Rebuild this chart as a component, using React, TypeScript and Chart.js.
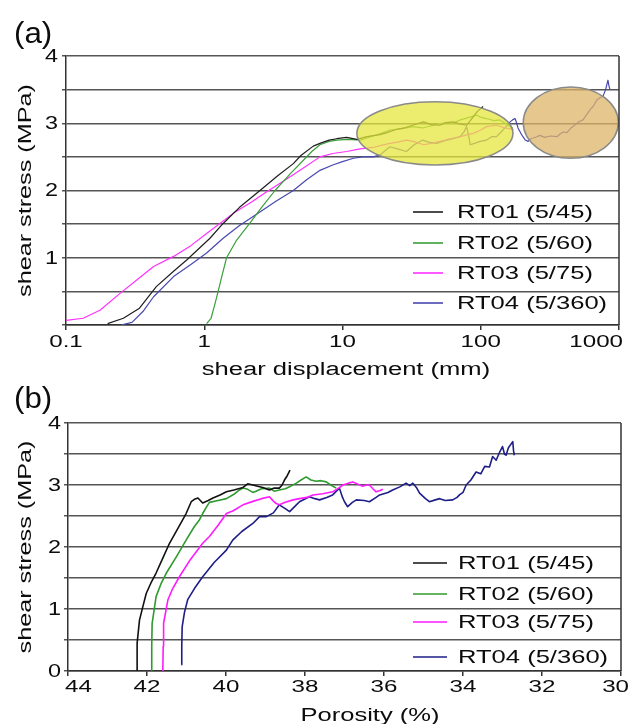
import React, { useEffect, useRef } from 'react';
import { Chart, registerables } from 'chart.js';

Chart.register(...registerables);

const FONT = "'Liberation Sans', Arial, sans-serif";
Chart.defaults.font.family = FONT;

type Pt = [number, number];

// ---------- legend / series names ----------
const SERIES_NAMES = ['RT01 (5/45)', 'RT02 (5/60)', 'RT03 (5/75)', 'RT04 (5/360)'];
const COLORS_A = ['#1e1e1e', '#3a9f3a', '#ff30ff', '#4848b0'];
const COLORS_B = ['#111111', '#2f9a2f', '#ff1aff', '#1e1e88'];
const Y_TITLE = 'shear stress (MPa)';

// ---------- axis ticks ----------
const X_TICKS_A = [0.1, 1, 10, 100, 1000];
const X_TICK_LABELS_A = ['0.1', '1', '10', '100', '1000'];
const X_TICKS_B = [44, 42, 40, 38, 36, 34, 32, 30];
const X_TICK_LABELS_B = ['44', '42', '40', '38', '36', '34', '32', '30'];
const Y_TICKS = [0, 0.5, 1, 1.5, 2, 2.5, 3, 3.5, 4];
const Y_TICK_LABELS_A = ['', '', '1', '', '2', '', '3', '', '4'];
const Y_TICK_LABELS_B = ['0', '', '1', '', '2', '', '3', '', '4'];

// ---------- (a) shear stress vs shear displacement (mm) ----------
const RT01_SHEAR: Pt[] = [
  [0.2, 0.02], [0.26, 0.1], [0.34, 0.25], [0.45, 0.57], [0.6, 0.8], [0.75, 0.97], [1.1, 1.29],
  [1.37, 1.51], [1.8, 1.75], [2.53, 2.0], [3.4, 2.22], [4.41, 2.4], [5.0, 2.52], [6.15, 2.66],
  [6.87, 2.7], [8.0, 2.75], [9.08, 2.77], [10.7, 2.79], [12.7, 2.76], [15, 2.8], [18.7, 2.83],
  [21, 2.86], [24.7, 2.91], [28, 2.93], [32, 2.97], [38.5, 3.02], [44, 2.98], [50.7, 2.97],
  [56, 3.01], [63.4, 3.02], [70, 2.99], [79, 2.97], [84, 3.04], [88.3, 3.1], [95, 3.18], [104, 3.25],
];
const RT02_SHEAR: Pt[] = [
  [1.04, 0.02], [1.12, 0.1], [1.19, 0.3], [1.26, 0.5], [1.35, 0.75], [1.45, 1.0], [1.7, 1.25],
  [2.11, 1.5], [2.6, 1.75], [3.25, 2.0], [4.2, 2.25], [5.21, 2.45], [6.0, 2.58], [6.87, 2.68],
  [8.0, 2.73], [9.1, 2.75], [11, 2.76], [13.4, 2.75], [16, 2.8], [19, 2.85], [22.1, 2.9], [27, 2.92],
  [32.5, 2.95], [38, 2.93], [45.4, 2.97], [50, 2.99], [56.7, 3.01], [63, 3.0], [71.3, 3.05],
  [80, 3.08], [93.5, 3.12], [100, 3.09], [110, 3.07], [125, 3.04], [138, 3.05], [150, 3.0],
  [163, 2.95], [170, 2.93],
];
const RT03_SHEAR: Pt[] = [
  [0.1, 0.07], [0.133, 0.1], [0.176, 0.22], [0.246, 0.47], [0.33, 0.68], [0.43, 0.87], [0.6, 1.02],
  [0.8, 1.18], [1.04, 1.36], [1.62, 1.66], [2.2, 1.83], [2.83, 1.98], [3.8, 2.15], [4.93, 2.3],
  [6.87, 2.5], [8.5, 2.55], [10.7, 2.58], [13.4, 2.62], [16.7, 2.64], [19, 2.67], [22.1, 2.7],
  [25, 2.72], [29.1, 2.75], [32.5, 2.73], [38.5, 2.68], [44, 2.7], [50.7, 2.73], [60, 2.77],
  [71.3, 2.8], [80, 2.83], [88.3, 2.85], [100, 2.9], [110, 2.95], [130, 2.97], [150, 2.93], [172, 2.91],
];
const RT04_SHEAR: Pt[] = [
  [0.25, 0.0], [0.3, 0.04], [0.36, 0.2], [0.43, 0.42], [0.6, 0.72], [0.8, 0.9], [1.04, 1.07],
  [1.37, 1.29], [1.8, 1.48], [2.45, 1.66], [3.3, 1.84], [4.41, 2.0], [5.5, 2.16], [6.87, 2.3],
  [8.5, 2.38], [10, 2.43], [12, 2.48], [14, 2.5], [16.7, 2.5], [18.7, 2.53], [22, 2.65], [25, 2.62],
  [29, 2.58], [33, 2.68], [38, 2.75], [42, 2.72], [48, 2.7], [55, 2.74], [63, 2.77], [71, 2.8],
  [76, 2.88], [79, 2.95], [82, 2.8], [84, 2.68], [90, 2.7], [99, 2.73], [110, 2.75], [120, 2.8],
  [130, 2.8], [145, 2.9], [163, 3.02], [170, 3.05], [177, 3.07], [182, 3.0], [186, 2.93], [195, 2.85],
  [202, 2.8], [210, 2.75], [220, 2.73], [230, 2.77], [239, 2.78], [255, 2.8], [268, 2.82], [290, 2.79],
  [320, 2.81], [356, 2.8], [375, 2.84], [394, 2.87], [420, 2.86], [450, 2.93], [497, 3.0], [520, 3.03],
  [549, 3.05], [580, 3.12], [617, 3.2], [650, 3.25], [693, 3.35], [730, 3.38], [766, 3.4], [800, 3.5],
  [832, 3.64], [845, 3.56], [861, 3.5],
];

// ---------- (b) shear stress vs porosity (%) ----------
const RT01_POROSITY: Pt[] = [
  [42.25, 0.0], [42.25, 0.45], [42.19, 0.82], [42.1, 1.05], [42.02, 1.25], [41.9, 1.42], [41.77, 1.58],
  [41.6, 1.82], [41.43, 2.06], [41.2, 2.32], [41.01, 2.54], [40.88, 2.73], [40.8, 2.77], [40.71, 2.79],
  [40.59, 2.71], [40.45, 2.75], [40.33, 2.79], [40.15, 2.84], [39.99, 2.89], [39.8, 2.92], [39.57, 2.96],
  [39.45, 3.02], [39.32, 3.0], [39.2, 2.98], [39.07, 2.96], [38.9, 2.92], [38.78, 2.95], [38.65, 2.95],
  [38.58, 3.0], [38.52, 3.08], [38.45, 3.15], [38.38, 3.24],
];
const RT02_POROSITY: Pt[] = [
  [41.89, 0.0], [41.88, 0.4], [41.87, 0.77], [41.77, 1.2], [41.65, 1.4], [41.51, 1.58], [41.25, 1.85],
  [41.01, 2.11], [40.8, 2.33], [40.67, 2.44], [40.59, 2.54], [40.5, 2.64], [40.42, 2.72], [40.2, 2.75],
  [39.99, 2.78], [39.8, 2.85], [39.66, 2.92], [39.57, 2.95], [39.45, 2.93], [39.32, 2.88], [39.24, 2.9],
  [39.1, 2.94], [38.9, 2.95], [38.78, 2.9], [38.65, 2.92], [38.5, 2.94], [38.39, 2.97], [38.22, 3.03],
  [38.1, 3.08], [37.97, 3.13], [37.85, 3.08], [37.72, 3.06], [37.6, 3.07], [37.46, 3.05], [37.35, 3.0],
  [37.21, 2.95],
];
const RT03_POROSITY: Pt[] = [
  [41.6, 0.0], [41.59, 0.4], [41.58, 0.77], [41.47, 1.15], [41.35, 1.33], [41.18, 1.52], [40.9, 1.8],
  [40.59, 2.06], [40.42, 2.17], [40.2, 2.35], [39.99, 2.54], [39.83, 2.58], [39.57, 2.68], [39.3, 2.74],
  [39.1, 2.78], [38.9, 2.81], [38.8, 2.74], [38.73, 2.7], [38.65, 2.68], [38.5, 2.72], [38.3, 2.76],
  [38.14, 2.78], [37.95, 2.8], [37.8, 2.84], [37.55, 2.86], [37.3, 2.89], [37.15, 2.95], [37.04, 3.0],
  [36.9, 3.03], [36.79, 3.05], [36.65, 3.01], [36.54, 2.98], [36.45, 3.0], [36.37, 3.0], [36.28, 2.94],
  [36.2, 2.89], [36.1, 2.91], [36.03, 2.93],
];
const RT04_POROSITY: Pt[] = [
  [41.13, 0.1], [41.12, 0.4], [41.11, 0.71], [41.05, 0.95], [40.97, 1.15], [40.8, 1.33], [40.59, 1.52],
  [40.3, 1.75], [39.99, 1.95], [39.83, 2.11], [39.6, 2.25], [39.32, 2.38], [39.15, 2.49], [38.98, 2.49],
  [38.8, 2.55], [38.65, 2.68], [38.5, 2.62], [38.39, 2.57], [38.25, 2.66], [38.14, 2.73], [37.89, 2.81],
  [37.75, 2.78], [37.63, 2.76], [37.45, 2.8], [37.3, 2.84], [37.13, 2.95], [37.05, 2.8], [37.0, 2.73],
  [36.92, 2.65], [36.8, 2.72], [36.7, 2.76], [36.5, 2.75], [36.37, 2.73], [36.2, 2.8], [36.11, 2.84],
  [35.9, 2.88], [35.78, 2.92], [35.6, 2.97], [35.44, 3.03], [35.35, 2.99], [35.27, 3.03], [35.18, 2.96],
  [35.1, 2.87], [34.95, 2.78], [34.85, 2.73], [34.7, 2.76], [34.59, 2.78], [34.45, 2.75], [34.26, 2.76],
  [34.15, 2.8], [34.09, 2.84], [34.0, 2.88], [33.92, 3.0], [33.8, 3.08], [33.67, 3.21], [33.55, 3.18],
  [33.45, 3.3], [33.33, 3.29], [33.25, 3.46], [33.16, 3.4], [33.08, 3.52], [33.0, 3.62], [32.95, 3.5],
  [32.91, 3.48], [32.85, 3.6], [32.74, 3.7], [32.72, 3.55], [32.7, 3.48],
];

// ---------- highlighted regions in (a), in data units ----------
const YELLOW_REGION_X = [12.7, 171];
const YELLOW_REGION_Y = [2.38, 3.32];
const ORANGE_REGION_X = [203, 988];
const ORANGE_REGION_Y = [2.48, 3.54];

const toXY = (arr: Pt[]) => arr.map(([x, y]) => ({ x, y }));

// horizontally stretched text (the source figure uses a wide sans face)
function wideText(
  ctx: CanvasRenderingContext2D, text: string, x: number, y: number,
  size: number, sx: number, align: 'left' | 'center' | 'right', baseline: CanvasTextBaseline, rotate = 0,
) {
  ctx.save();
  ctx.font = `${size}px ${FONT}`;
  ctx.textBaseline = baseline;
  ctx.textAlign = 'left';
  const w = ctx.measureText(text).width * sx;
  ctx.translate(x, y);
  if (rotate) ctx.rotate(rotate);
  const off = align === 'left' ? 0 : align === 'center' ? -w / 2 : -w;
  ctx.translate(off, 0);
  ctx.scale(sx, 1);
  ctx.fillText(text, 0, 0);
  ctx.restore();
  return w;
}

function textWidth(ctx: CanvasRenderingContext2D, text: string, size: number, sx: number) {
  ctx.save();
  ctx.font = `${size}px ${FONT}`;
  const w = ctx.measureText(text).width * sx;
  ctx.restore();
  return w;
}

function decorPlugin(cfg: any) {
  return {
    id: 'decor',
    afterDatasetsDraw(chart: any) {
      const { ctx, chartArea: ca, scales } = chart;
      const xs = scales.x;
      const ys = scales.y;
      for (const e of cfg.ellipses) {
        const x1 = xs.getPixelForValue(e.x[0]);
        const x2 = xs.getPixelForValue(e.x[1]);
        const y1 = ys.getPixelForValue(e.y[1]);
        const y2 = ys.getPixelForValue(e.y[0]);
        ctx.save();
        ctx.beginPath();
        ctx.ellipse((x1 + x2) / 2, (y1 + y2) / 2, Math.abs(x2 - x1) / 2, Math.abs(y2 - y1) / 2, 0, 0, Math.PI * 2);
        ctx.fillStyle = e.fill;
        ctx.fill();
        ctx.strokeStyle = '#8a8a8a';
        ctx.lineWidth = 1.5;
        ctx.stroke();
        ctx.restore();
      }
      ctx.save();
      ctx.strokeStyle = '#333';
      ctx.lineWidth = 1.5;
      ctx.beginPath();
      ctx.moveTo(ca.right, ca.top);
      ctx.lineTo(ca.right, ca.bottom);
      ctx.stroke();
      ctx.restore();
    },
    afterDraw(chart: any) {
      const { ctx, chartArea: ca, scales } = chart;
      const xs = scales.x;
      const ys = scales.y;
      ctx.save();
      ctx.fillStyle = '#0c0c0c';

      // panel label
      wideText(ctx, cfg.panelLabel, cfg.panelLabelX, cfg.panelLabelY, 29, 1.08, 'left', 'alphabetic');

      // x tick labels
      cfg.xTicks.forEach((v: number, i: number) => {
        const label = cfg.xTickLabels[i];
        const w = textWidth(ctx, label, 17, 1.42);
        let cx = xs.getPixelForValue(v);
        cx = Math.max(cx, cfg.xTickMinLeft + w / 2);
        cx = Math.min(cx, cfg.xTickMaxRight - w / 2);
        wideText(ctx, label, cx, cfg.xTickY, 17, 1.42, 'center', 'alphabetic');
      });

      // y tick labels
      Y_TICKS.forEach((v, i) => {
        const label = cfg.yTickLabels[i];
        if (!label) return;
        wideText(ctx, label, ca.left - cfg.yTickGap, ys.getPixelForValue(v) + 1, 18, 1.3, 'right', 'middle');
      });

      // axis titles
      wideText(ctx, cfg.xTitle, cfg.xTitleX, cfg.xTitleY, 18, 1.42, 'center', 'alphabetic');
      wideText(ctx, Y_TITLE, cfg.yTitleX, (ca.top + ca.bottom) / 2, 18, 1.4, 'center', 'middle', -Math.PI / 2);

      // legend
      cfg.legendY.forEach((ly: number, i: number) => {
        ctx.strokeStyle = cfg.colors[i];
        ctx.lineWidth = 1.6;
        ctx.beginPath();
        ctx.moveTo(cfg.legendX1, ly);
        ctx.lineTo(cfg.legendX2, ly);
        ctx.stroke();
        ctx.fillStyle = '#0c0c0c';
        wideText(ctx, SERIES_NAMES[i], cfg.legendTextX, ly + 6, 18, 1.42, 'left', 'alphabetic');
      });
      ctx.restore();
    },
  };
}

function buildChart(canvas: HTMLCanvasElement, cfg: any) {
  return new Chart(canvas, {
    type: 'line',
    data: {
      datasets: cfg.series.map((s: Pt[], i: number) => ({
        label: SERIES_NAMES[i],
        data: toXY(s),
        borderColor: cfg.colors[i],
        backgroundColor: cfg.colors[i],
        borderWidth: cfg.lineWidth,
        pointRadius: 0,
        tension: 0,
        fill: false,
        borderJoinStyle: 'round',
      })),
    },
    options: {
      animation: false,
      responsive: false,
      maintainAspectRatio: false,
      events: [],
      layout: { padding: { top: cfg.padTop, right: cfg.padRight, left: 0, bottom: 0 } },
      plugins: { legend: { display: false }, tooltip: { enabled: false }, title: { display: false } },
      scales: {
        x: {
          type: cfg.xType,
          min: cfg.xMin,
          max: cfg.xMax,
          reverse: cfg.reverse,
          afterBuildTicks: (s: any) => {
            s.ticks = cfg.xTicks.map((v: number) => ({ value: v }));
          },
          afterFit: (s: any) => {
            s.height = cfg.xHeight;
            s.paddingLeft = 0;
            s.paddingRight = 0;
          },
          ticks: { display: false },
          grid: { drawOnChartArea: false, drawTicks: true, tickLength: 5, color: '#333', lineWidth: 1.5 },
          border: { color: '#333', width: 1.5 },
        },
        y: {
          type: 'linear',
          min: 0,
          max: 4,
          afterBuildTicks: (s: any) => {
            s.ticks = Y_TICKS.map((v) => ({ value: v }));
          },
          afterFit: (s: any) => {
            s.width = cfg.yWidth;
            s.paddingTop = 0;
            s.paddingBottom = 0;
          },
          ticks: { display: false },
          grid: { color: '#555', lineWidth: 1.5, tickLength: 4 },
          border: { color: '#333', width: 1.5 },
        },
      },
    } as any,
    plugins: [decorPlugin(cfg)],
  });
}

const PANEL_A = {
  series: [RT01_SHEAR, RT02_SHEAR, RT03_SHEAR, RT04_SHEAR],
  colors: COLORS_A,
  lineWidth: 1.2,
  xType: 'logarithmic',
  xMin: 0.1,
  xMax: 1000,
  reverse: false,
  xTicks: X_TICKS_A,
  xTickLabels: X_TICK_LABELS_A,
  yTickLabels: Y_TICK_LABELS_A,
  yTickGap: 8,
  padTop: 56,
  padRight: 10,
  yWidth: 66,
  xHeight: 55,
  panelLabel: '(a)',
  panelLabelX: 14,
  panelLabelY: 43,
  xTitle: 'shear displacement (mm)',
  xTitleX: 346,
  xTitleY: 375,
  yTitleX: 26,
  xTickY: 347,
  xTickMinLeft: 0,
  xTickMaxRight: 623,
  legendY: [212, 243, 273, 303],
  legendX1: 413,
  legendX2: 443,
  legendTextX: 457,
  ellipses: [
    { x: YELLOW_REGION_X, y: YELLOW_REGION_Y, fill: 'rgba(230,230,62,0.75)' },
    { x: ORANGE_REGION_X, y: ORANGE_REGION_Y, fill: 'rgba(222,180,104,0.75)' },
  ],
};

const PANEL_B = {
  series: [RT01_POROSITY, RT02_POROSITY, RT03_POROSITY, RT04_POROSITY],
  colors: COLORS_B,
  lineWidth: 1.6,
  xType: 'linear',
  xMin: 30,
  xMax: 44,
  reverse: true,
  xTicks: X_TICKS_B,
  xTickLabels: X_TICK_LABELS_B,
  yTickLabels: Y_TICK_LABELS_B,
  yTickGap: 7,
  padTop: 53,
  padRight: 8,
  yWidth: 68,
  xHeight: 53,
  panelLabel: '(b)',
  panelLabelX: 14,
  panelLabelY: 38,
  xTitle: 'Porosity (%)',
  xTitleX: 370,
  xTitleY: 351,
  yTitleX: 26,
  xTickY: 322,
  xTickMinLeft: 65,
  xTickMaxRight: 629,
  legendY: [193, 224, 252, 287],
  legendX1: 413,
  legendX2: 447,
  legendTextX: 458,
  ellipses: [],
};

export default function App() {
  const refA = useRef<HTMLCanvasElement>(null);
  const refB = useRef<HTMLCanvasElement>(null);

  useEffect(() => {
    const a = buildChart(refA.current!, PANEL_A);
    const b = buildChart(refB.current!, PANEL_B);
    return () => {
      a.destroy();
      b.destroy();
    };
  }, []);

  return (
    <div style={{ position: 'absolute', left: 0, top: 0, width: 629, height: 724, background: '#fff', overflow: 'hidden' }}>
      <canvas ref={refA} width={629} height={380} style={{ position: 'absolute', left: 0, top: 0, width: 629, height: 380 }} />
      <canvas ref={refB} width={629} height={354} style={{ position: 'absolute', left: 0, top: 370, width: 629, height: 354 }} />
    </div>
  );
}
